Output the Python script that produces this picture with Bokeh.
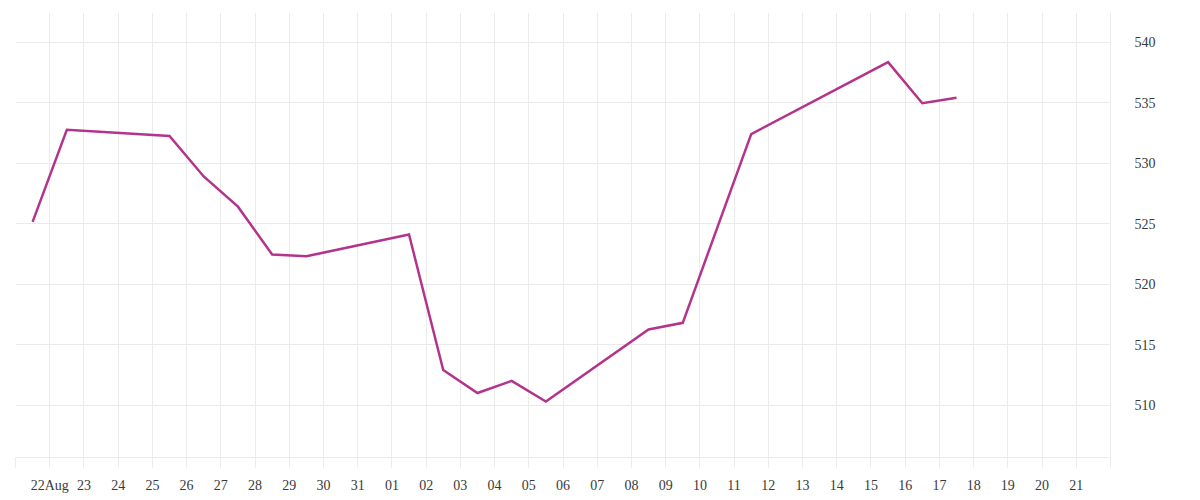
import pandas as pd
from bokeh.plotting import figure
from bokeh.models import Range1d, FixedTicker, LinearAxis, ColumnDataSource
from bokeh.embed import file_html
from bokeh.resources import INLINE

# ---- data ----
BASE_DATE = "2024-08-21"
DATES = ["2024-08-22", "2024-08-23", "2024-08-26", "2024-08-27", "2024-08-28",
         "2024-08-29", "2024-08-30", "2024-09-02", "2024-09-03", "2024-09-04",
         "2024-09-05", "2024-09-06", "2024-09-09", "2024-09-10", "2024-09-12",
         "2024-09-16", "2024-09-17", "2024-09-18"]
VALUES = [525.15, 532.75, 532.25, 528.9, 526.4, 522.45, 522.3, 524.1, 512.9, 511.0,
          512.0, 510.3, 516.25, 516.8, 532.4, 538.35, 534.95, 535.4]
X_TICK_LABELS = ["", "22Aug", "23", "24", "25", "26", "27", "28", "29", "30", "31",
                 "01", "02", "03", "04", "05", "06", "07", "08", "09", "10", "11",
                 "12", "13", "14", "15", "16", "17", "18", "19", "20", "21", ""]
Y_TICKS = [510, 515, 520, 525, 530, 535, 540]

base = pd.Timestamp(BASE_DATE)
xs = [(pd.Timestamp(d) - base).total_seconds() / 86400.0 - 0.5 for d in DATES]
src = ColumnDataSource(dict(x=xs, y=VALUES))

GRID = "#ebebeb"
FONT = "Liberation Serif"
TXT = "#3a3a3a"

p = figure(width=1192, height=495, output_backend="svg", toolbar_location=None,
           x_range=Range1d(0, len(X_TICK_LABELS) - 1), y_range=Range1d(505.67, 542.45),
           min_border_left=15, min_border_top=12, min_border_right=82, min_border_bottom=37,
           y_axis_location=None)
p.outline_line_color = None
p.background_fill_color = "white"
p.border_fill_color = "white"

p.line("x", "y", source=src, line_color="#b3348c", line_width=2.5, line_join="miter")

# x axis
xa = p.xaxis[0]
xa.ticker = FixedTicker(ticks=list(range(len(X_TICK_LABELS))))
xa.major_label_overrides = {i: lab for i, lab in enumerate(X_TICK_LABELS)}
xa.axis_line_color = GRID
xa.major_tick_line_color = GRID
xa.major_tick_out = 10
xa.major_tick_in = 0
xa.minor_tick_line_color = None
xa.major_label_standoff = 10
xa.major_label_text_font = FONT
xa.major_label_text_font_size = "14px"
xa.major_label_text_color = TXT

# right y axis
ya = LinearAxis(ticker=FixedTicker(ticks=Y_TICKS))
ya.axis_line_color = GRID
ya.major_tick_line_color = None
ya.minor_tick_line_color = None
ya.major_label_standoff = 18
ya.major_label_text_font = FONT
ya.major_label_text_font_size = "14px"
ya.major_label_text_color = TXT
p.add_layout(ya, "right")

p.xgrid.ticker = xa.ticker
p.xgrid.grid_line_color = GRID
p.ygrid.grid_line_color = GRID
p.ygrid.ticker = FixedTicker(ticks=Y_TICKS)

open("out.html", "w").write(file_html(p, INLINE))
